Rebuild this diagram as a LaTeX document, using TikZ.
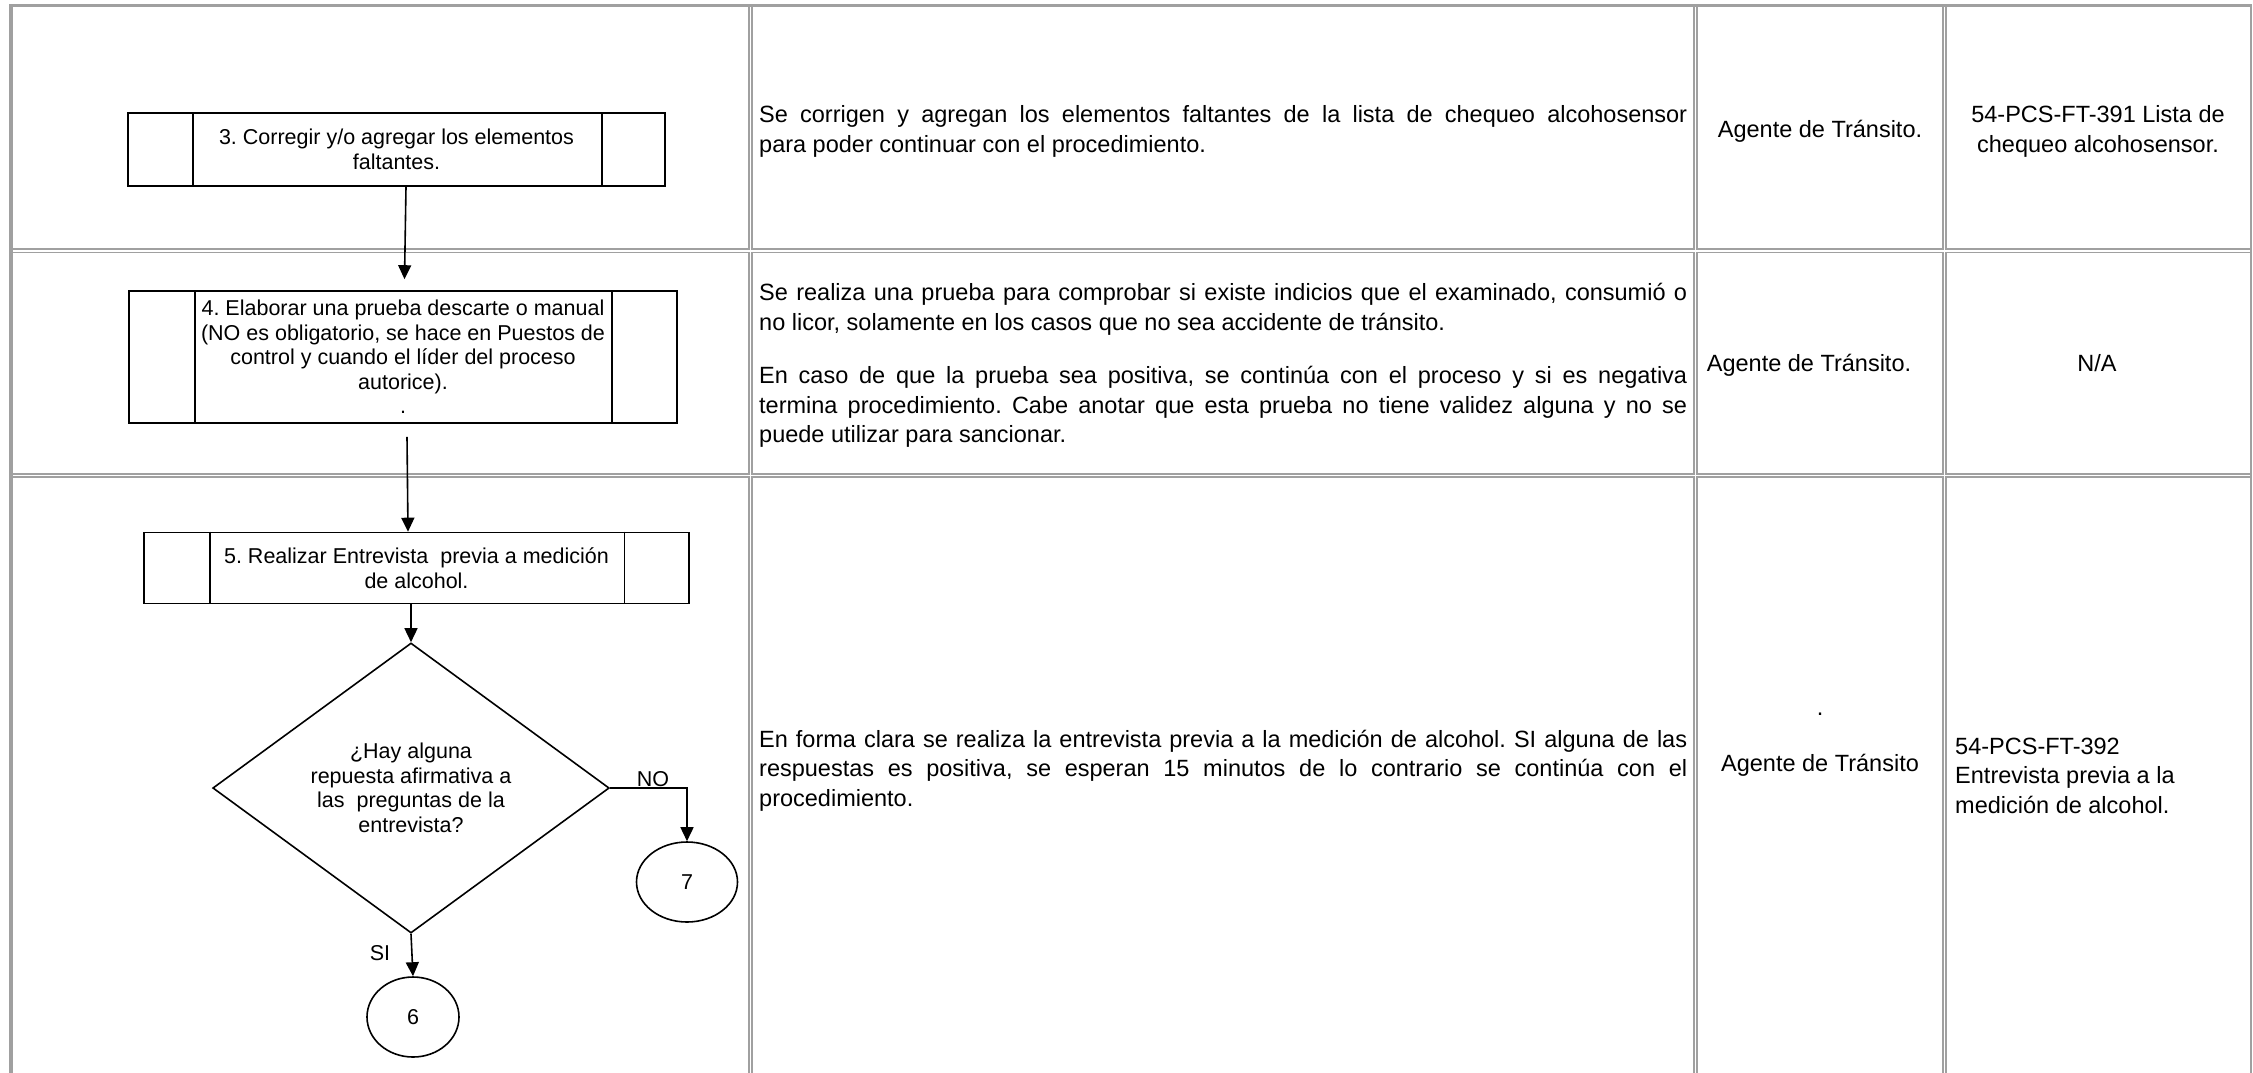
\documentclass[tikz,border=0pt]{standalone}
\usepackage{fontspec}
\setmainfont{Liberation Sans}
\usetikzlibrary{arrows.meta,shapes.geometric}
\definecolor{tgray}{RGB}{160,160,160}
\newcommand\fcol{\fontsize{23.5}{29.5}\selectfont}
\newcommand\fflow{\fontsize{21.5}{24.5}\selectfont}
\newcommand\jline[1]{\makebox[928pt][s]{#1}}
\frenchspacing
\begin{document}
\begin{tikzpicture}[x=1pt,y=-1pt,
  cellline/.style={draw=tgray,line width=1.8pt},
  outerline/.style={draw=tgray,line width=3.6pt},
  procbox/.style={draw=black,line width=1.6pt,inner sep=0pt,align=center,font=\fflow},
  divline/.style={draw=black,line width=1.6pt},
  decision/.style={draw=black,diamond,line width=1.6pt,inner sep=0pt,align=center,font=\fflow},
  connector/.style={draw=black,ellipse,line width=1.6pt,inner sep=0pt,font=\fflow},
  arr/.style={draw=black,line width=1.6pt,-{Triangle[length=14pt,width=13pt]}},
  lbl/.style={inner sep=0pt,font=\fflow,anchor=base},
  coltext/.style={inner sep=0pt,font=\fcol\frenchspacing,anchor=base west,align=left},
  ctrtext/.style={inner sep=0pt,font=\fcol,anchor=base,align=center}]
\useasboundingbox (0,0) rectangle (2253,1072);
\clip (0,0) rectangle (2253,1072);
\fill[white] (0,0) rectangle (2253,1072);

% table cells
\foreach \l/\r in {10.8/749.2, 752.2/1693.8, 1696.6/1942.8, 1945.6/2251}{
  \foreach \t/\b in {5.6/249.2, 252.4/474, 477.2/1090}{
    \draw[cellline] (\l,\t) rectangle (\r,\b);
  }
}
\draw[outerline] (10.8,1090) -- (10.8,5.6) -- (2252,5.6);
\draw[draw=tgray,line width=2.4pt] (2251,5.6) -- (2251,1090);

% flowchart
\node[procbox,minimum width=537pt,minimum height=73pt] (b3) at (396.5,149.5)
  {3. Corregir y/o agregar los elementos\\faltantes.};
\draw[divline] ([xshift=66pt]b3.north west) -- ([xshift=66pt]b3.south west);
\draw[divline] ([xshift=-64pt]b3.north east) -- ([xshift=-64pt]b3.south east);

\node[procbox,minimum width=548pt,minimum height=132pt] (b4) at (403,357)
  {4. Elaborar una prueba descarte o manual\\(NO es obligatorio, se hace en Puestos de\\control y cuando el líder del proceso\\autorice).\\.};
\draw[divline] ([xshift=67pt]b4.north west) -- ([xshift=67pt]b4.south west);
\draw[divline] ([xshift=-66pt]b4.north east) -- ([xshift=-66pt]b4.south east);

\node[procbox,minimum width=545pt,minimum height=71pt] (b5) at (416.5,568)
  {5. Realizar Entrevista~ previa a medición\\de alcohol.};
\draw[divline] ([xshift=67pt]b5.north west) -- ([xshift=67pt]b5.south west);
\draw[divline] ([xshift=-65.5pt]b5.north east) -- ([xshift=-65.5pt]b5.south east);

\node[decision,minimum width=396.5pt,minimum height=286pt] (d) at (411,788)
  {¿Hay alguna\\repuesta afirmativa a\\las~ preguntas de la\\entrevista?};

\node[connector,minimum width=101pt,minimum height=80pt] (c7) at (687,882) {7};
\node[connector,minimum width=92pt,minimum height=80pt] (c6) at (413,1017) {6};

\draw[arr] ([xshift=9.5pt]b3.south) -- ([xshift=1.5pt,yshift=11pt]b4.north);
\draw[arr] ([xshift=4pt,yshift=-13pt]b4.south) -- ([xshift=-8.5pt]b5.north);
\draw[arr] ([xshift=-5.5pt]b5.south) -- (d.north);
\draw[arr] (d.east) -| (c7.north);
\draw[arr] (d.south) -- (c6.north);
\node[lbl] (no) at (653,786) {NO};
\node[lbl] (si) at (380,960) {SI};

% column 2 texts (anchored at the baseline of the last line)
\node[coltext] (t1) at (759,152)
  {\jline{Se corrigen y agregan los elementos faltantes de la lista de chequeo alcohosensor}\\
   para poder continuar con el procedimiento.};
\node[coltext] (t2) at (759,442.5)
  {\jline{Se realiza una prueba para comprobar si existe indicios que el examinado, consumió o}\\
   no licor, solamente en los casos que no sea accidente de tránsito.\\[24pt]
   \jline{En caso de que la prueba sea positiva, se continúa con el proceso y si es negativa}\\
   \jline{termina procedimiento. Cabe anotar que esta prueba no tiene validez alguna y no se}\\
   puede utilizar para sancionar.};
\node[coltext] (t3) at (759,806)
  {\jline{En forma clara se realiza la entrevista previa a la medición de alcohol. SI alguna de las}\\
   \jline{respuestas es positiva, se esperan 15 minutos de lo contrario se continúa con el}\\
   procedimiento.};

% column 3 texts
\node[ctrtext] (r1) at (1820,137) {Agente de Tránsito.};
\node[ctrtext] (r2) at (1809,371) {Agente de Tránsito.};
\node[ctrtext] (r3) at (1820,771) {.\\[26.5pt]Agente de Tránsito};

% column 4 texts
\node[ctrtext] (f1) at (2098,152) {54-PCS-FT-391 Lista de\\chequeo alcohosensor.};
\node[ctrtext] (f2) at (2097,371) {N/A};
\node[coltext] (f3) at (1955,813) {54-PCS-FT-392\\Entrevista previa a la\\medición de alcohol.};
\end{tikzpicture}
\end{document}
